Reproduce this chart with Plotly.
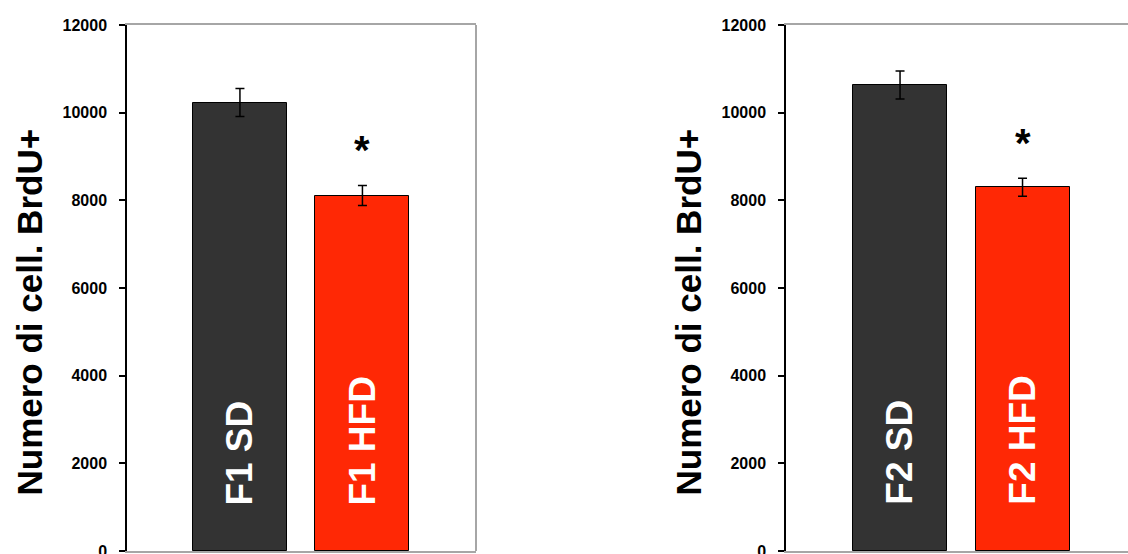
import plotly.graph_objects as go

# Data: BrdU+ cell counts (mean ± SEM) for two generations
groups_f1 = ["F1 SD", "F1 HFD"]
means_f1 = [10230, 8110]
sem_f1 = [320, 230]

groups_f2 = ["F2 SD", "F2 HFD"]
means_f2 = [10630, 8300]
sem_f2 = [320, 205]

bar_colors = ["#333333", "#FF2805"]
y_title = "Numero di cell. BrdU+"
tick_vals = [0, 2000, 4000, 6000, 8000, 10000, 12000]
tick_text = ["0", "2000", "4000", "6000", "8000", "10000", "12000"]
signif_marks = ["", "*"]

W, H = 1128, 554
FONT = "Liberation Sans, Arial, sans-serif"

fig = go.Figure()

panels = [
    (groups_f1, means_f1, sem_f1, "x", "y"),
    (groups_f2, means_f2, sem_f2, "x2", "y2"),
]

for groups, means, sems, xa, ya in panels:
    fig.add_trace(go.Bar(
        x=[0, 1], y=means,
        width=0.767,
        marker=dict(color=bar_colors, line=dict(color="#000000", width=1)),
        error_y=dict(type="data", array=sems, visible=True,
                     color="#000000", thickness=1.5, width=4.5),
        xaxis=xa, yaxis=ya, showlegend=False, hoverinfo="skip",
    ))
    # group names written vertically inside the bars
    for i, name in enumerate(groups):
        fig.add_annotation(
            x=i, y=1000, xref=xa, yref=ya,
            text="<b>" + name + "</b>", textangle=-90, showarrow=False,
            xanchor="center", yanchor="bottom",
            font=dict(family=FONT, size=37, color="#FFFFFF"),
        )
    # significance marks above the bars
    for i, mark in enumerate(signif_marks):
        if mark:
            fig.add_annotation(
                x=i, y=means[i] + sems[i] + 800, xref=xa, yref=ya,
                text="<b>" + mark + "</b>", showarrow=False,
                xanchor="center", yanchor="middle",
                font=dict(family=FONT, size=40, color="#000000"),
            )

ydom = [3 / H, 1 - 25 / H]
x_common = dict(showline=True, linecolor="#A6A6A6", linewidth=2, mirror=True,
                showticklabels=False, ticks="", showgrid=False, zeroline=False,
                fixedrange=True)
y_common = dict(range=[0, 12000], tickvals=tick_vals, ticktext=tick_text,
                ticks="outside", ticklen=6,
                tickcolor="#000000", tickwidth=1.5, showline=True,
                linecolor="#000000", linewidth=1.5, showgrid=False,
                zeroline=False, automargin=False, ticklabelstandoff=9,
                ticklabeloverflow="allow",
                tickfont=dict(family=FONT, size=16, color="#000000", weight="bold"))

fig.update_layout(
    width=W, height=H,
    margin=dict(l=0, r=0, t=0, b=0),
    paper_bgcolor="#FFFFFF", plot_bgcolor="#FFFFFF",
    bargap=0,
    xaxis=dict(domain=[127 / W, 476 / W], range=[-0.922, 1.927], anchor="y", **x_common),
    xaxis2=dict(domain=[786 / W, 1.0], range=[-0.931, 1.861], anchor="y2", **x_common),
    yaxis=dict(domain=ydom, anchor="x", **y_common),
    yaxis2=dict(domain=ydom, anchor="x2", **y_common),
)

# gray right border of the first panel
fig.add_shape(type="line", xref="x domain", yref="y domain",
              x0=1, x1=1, y0=0, y1=1, line=dict(color="#A6A6A6", width=2))

# y-axis titles
for xp in (29 / W, 688 / W):
    fig.add_annotation(
        x=xp, y=1 - 312.5 / H, xref="paper", yref="paper",
        text="<b>" + y_title + "</b>", textangle=-90, showarrow=False,
        xanchor="center", yanchor="middle",
        font=dict(family=FONT, size=35, color="#000000"),
    )

fig.write_html("out.html")
